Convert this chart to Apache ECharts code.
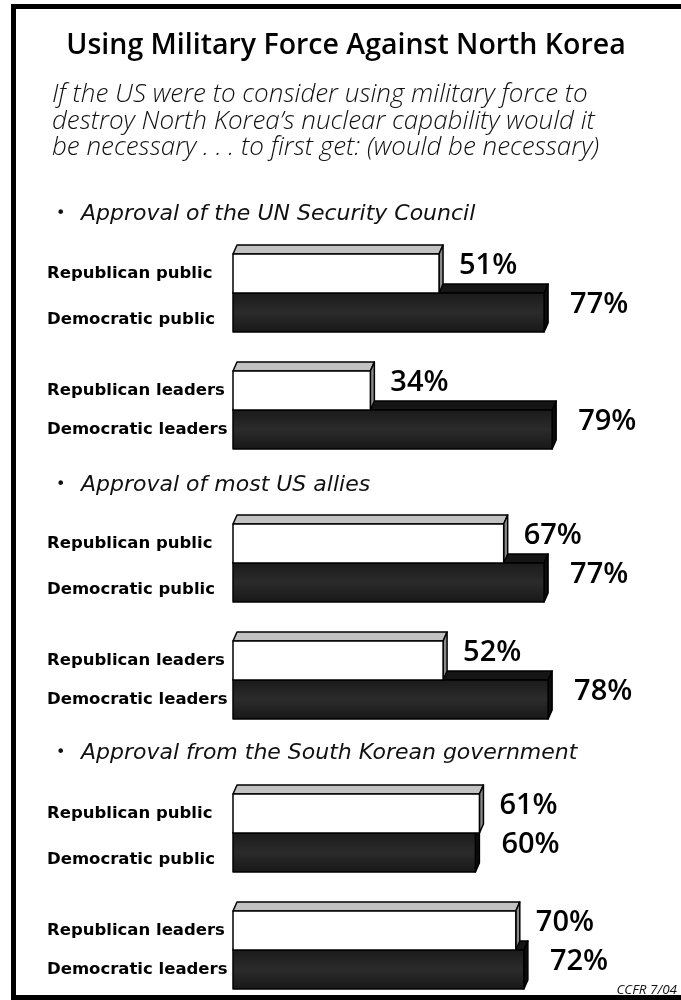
<!DOCTYPE html>
<html>
<head>
<meta charset="utf-8">
<script src="https://cdn.jsdelivr.net/npm/echarts@6/dist/echarts.min.js"></script>
<style>
  html, body { margin: 0; padding: 0; background: #fff; }
  #chart { width: 681px; height: 1000px; }
</style>
</head>
<body>
<div id="chart"></div>
<script>
// Share saying each approval would be necessary before using force (%)
const groups = ['Republican public', 'Democratic public', 'Republican leaders', 'Democratic leaders'];
const unSecurityCouncil = [51, 77, 34, 79];
const usAllies = [67, 77, 52, 78];
const southKoreanGov = [61, 60, 70, 72];

const sectionTitles = [
  'Approval of the UN Security Council',
  'Approval of most US allies',
  'Approval from the South Korean government'
];
const titleText = 'Using Military Force Against North Korea';
const questionLines = [
  'If the US were to consider using military force to',
  'destroy North Korea\u2019s nuclear capability would it',
  'be necessary . . . to first get: (would be necessary)'
];
const sourceText = 'CCFR 7/04';

// Category axis rows: public pair, spacer, leaders pair
const rowNames = [groups[0], groups[1], '', groups[2], groups[3]];
const rowIndex = [0, 1, 3, 4];

const sections = [unSecurityCouncil, usAllies, southKoreanGov];
const gridTops = [254, 524, 794];

const DX = 4, DY = -9;
const LABEL_FONT = '"DejaVu Sans", sans-serif';

function barItem(params, api) {
  const val = api.value(0);
  const row = api.value(1);
  const dark = api.value(2) === 1;
  const start = api.coord([0, row]);
  const end = api.coord([val, row]);
  const h = api.size([0, 1])[1];
  const x0 = start[0], x1 = end[0];
  const y0 = end[1] - h / 2, y1 = end[1] + h / 2;
  const zb = dark ? 1 : 10;
  const line = { stroke: '#000', lineWidth: 1.5, lineJoin: 'round' };
  const frontFill = dark
    ? new echarts.graphic.LinearGradient(0, 0, 0, 1, [
        { offset: 0, color: '#1a1a1a' },
        { offset: 0.5, color: '#2b2b2b' },
        { offset: 1, color: '#171717' }
      ])
    : '#ffffff';
  return {
    type: 'group',
    children: [
      {
        type: 'polygon', z2: zb,
        shape: { points: [[x0, y0], [x0 + DX, y0 + DY], [x1 + DX, y0 + DY], [x1, y0]] },
        style: Object.assign({ fill: dark ? '#151515' : '#c2c2c2' }, line)
      },
      {
        type: 'polygon', z2: zb + 1,
        shape: { points: [[x1, y0], [x1 + DX, y0 + DY], [x1 + DX, y1 + DY], [x1, y1]] },
        style: Object.assign({ fill: dark ? '#0c0c0c' : '#8a8a8a' }, line)
      },
      {
        type: 'rect', z2: zb + 2,
        shape: { x: x0, y: y0, width: x1 - x0, height: h },
        style: Object.assign({ fill: frontFill }, line)
      },
      {
        type: 'text', z2: 20,
        style: {
          text: val + '%',
          x: x1 + DX + (dark ? 22 : 16),
          y: end[1] - 8,
          verticalAlign: 'middle',
          align: 'left',
          fill: '#000',
          font: '600 29px "Open Sans", sans-serif'
        }
      }
    ]
  };
}

const grids = [], xAxes = [], yAxes = [], series = [];
sections.forEach((vals, s) => {
  grids.push({ left: 233, width: 404, top: gridTops[s], height: 195 });
  xAxes.push({ gridIndex: s, type: 'value', min: 0, max: 100, show: false });
  yAxes.push({
    gridIndex: s, type: 'category', inverse: true, data: rowNames,
    axisLine: { show: false }, axisTick: { show: false }, splitLine: { show: false },
    axisLabel: {
      margin: 186, align: 'left', color: '#000',
      fontFamily: LABEL_FONT, fontWeight: 'bold', fontSize: 16.5,
      formatter: (v, i) => (i === 1 ? '{low|' + v + '}' : v),
      rich: {
        low: {
          padding: [14, 0, 0, 0], color: '#000',
          fontFamily: LABEL_FONT, fontWeight: 'bold', fontSize: 16.5
        }
      }
    }
  });
  // dark (Democratic) bars first so the white bars sit over their top faces
  const data = [];
  [1, 3, 0, 2].forEach(i => data.push([vals[i], rowIndex[i], i % 2]));
  series.push({
    type: 'custom', xAxisIndex: s, yAxisIndex: s,
    renderItem: barItem, data: data, clip: false,
    encode: { x: 0, y: 1 }
  });
});

const graphics = [
  {
    type: 'rect', z: 50, silent: true,
    shape: { x: 13.5, y: 6.5, width: 720, height: 991 },
    style: { fill: 'none', stroke: '#000', lineWidth: 5 }
  },
  {
    type: 'text', x: 346, y: 46,
    style: {
      text: titleText, fill: '#000', align: 'center', verticalAlign: 'middle',
      font: '600 28.5px "Open Sans", sans-serif'
    }
  }
];
questionLines.forEach((t, i) => {
  graphics.push({
    type: 'text', x: 52, y: 95 + i * 26.5,
    style: {
      text: t, fill: '#111', verticalAlign: 'middle',
      font: 'italic 300 26px "Open Sans", sans-serif'
    }
  });
});
const bulletYs = [214, 485, 753];
sectionTitles.forEach((t, i) => {
  graphics.push({
    type: 'text', x: 56, y: bulletYs[i],
    style: { text: '\u2022', fill: '#111', verticalAlign: 'middle', font: '16px "DejaVu Sans", sans-serif' }
  });
  graphics.push({
    type: 'text', x: 81, y: bulletYs[i],
    style: {
      text: t, fill: '#111', verticalAlign: 'middle',
      font: 'italic 200 22px "DejaVu Sans", sans-serif'
    }
  });
});
graphics.push({
  type: 'text', x: 677, y: 990,
  style: {
    text: sourceText, fill: '#111', align: 'right', verticalAlign: 'middle',
    font: 'italic 13.5px "Open Sans", sans-serif'
  }
});

const chart = echarts.init(document.getElementById('chart'), null, { renderer: 'canvas' });
chart.setOption({
  animation: false,
  backgroundColor: '#fff',
  grid: grids,
  xAxis: xAxes,
  yAxis: yAxes,
  series: series,
  graphic: graphics
});
</script>
</body>
</html>
